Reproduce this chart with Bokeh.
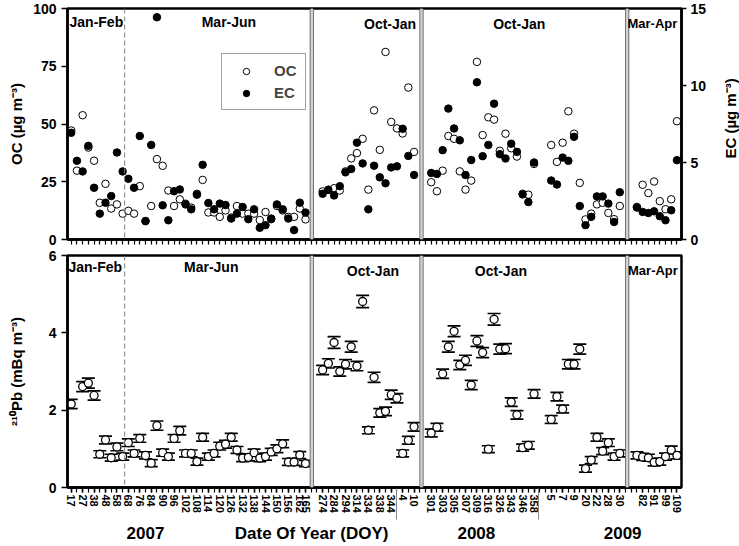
from math import pi
from bokeh.plotting import figure
from bokeh.models import (Range1d, LinearAxis, FixedTicker, Span, Label, Legend, LegendItem,
                          ColumnDataSource, Whisker, TeeHead)
from bokeh.layouts import column, row
from bokeh.embed import file_html
from bokeh.resources import INLINE

NaN = float("nan")

# ---------------- data ----------------
# sequential sample slot along the x axis, per sampling campaign
slots_2007_janjun = list(range(0, 42))
slots_2007_octjan = list(range(44, 61))
slots_2008_octdec = list(range(63, 82))
slots_2009_jan = list(range(84, 97))
slots_2009_marapr = list(range(99, 107))

# OC (ug m-3)
oc_2007_janjun = [47.2, 29.8, 53.8, 39.8, 34.1, 15.9, 24.1, 13.4, 15.2, 11.2,
                  12.4, 11.2, 23.1, 8.0, 14.5, 34.8, 31.9, 21.2, 14.5, 17.4, 15.5, 13.8, 19.8, 25.8,
                  11.7, 11.7, 9.8, 12.6, 9.5, 14.5, 11.2, 11.2, 11.2, 8.4, 11.9, 8.8, 14.5, 12.6,
                  9.8, 9.8, 13.4, 8.7]
oc_2007_octjan = [20.8, 21.5, 22.2, 21.2, 29.5, 35.1, 37.4, 43.6, 21.6, 55.9, 38.8, 81.2, 50.9,
                  48.1, 45.9, 65.8, 37.9]
oc_2008_octdec = [24.8, 20.9, 29.8, 44.8, 43.6, 29.5, 21.6, 25.5, 76.9, 45.2, 52.9, 51.9, 38.4,
                  45.8, 39.5, 35.9, 19.8, 19.4, 32.7]
oc_2009_jan = [40.9, 33.6, 41.9, 55.5, 45.8, 24.5, 8.7, 11.2, 15.2, 15.9, 11.5, 8.8, 14.5]
oc_2009_marapr = [14.1, 23.7, 20.1, 25.1, 16.6, 13.1, 17.4, 51.2]

# EC (ug m-3)
ec_2007_janjun = [6.93, 5.11, 4.42, 6.08, 3.36, 1.68, 2.39, 2.82, 5.65, 4.42,
                  3.94, 3.36, 6.72, 1.19, 6.14, 14.43, 2.22, 1.25, 3.14, 3.25, 2.28, 1.96, 2.91,
                  4.85, 2.37, 1.96, 2.33, 2.24, 1.36, 1.68, 2.11, 1.32, 1.96, 0.76, 0.93, 1.36,
                  2.28, 1.96, 1.36, 0.61, 2.39, 1.75]
ec_2007_octjan = [2.97, 3.23, 2.86, 3.46, 4.36, 4.58, 6.29, 4.94, 1.96, 4.79, 4.04, 3.65, 4.68,
                  4.75, 7.19, 5.43, 4.19]
ec_2008_octdec = [4.32, 4.26, 5.80, 8.50, 7.21, 6.44, 4.19, 5.16, 10.21, 5.41, 6.14, 8.82, 5.54,
                  5.26, 6.22, 5.69, 2.93, 2.43, 5.00]
ec_2009_jan = [3.83, 3.57, 5.32, 5.11, 6.67, 2.17, 0.93, 1.47, 2.80, 2.80, 2.33, 1.14, 3.07]
ec_2009_marapr = [2.07, 1.79, 1.72, 1.83, 1.51, 1.25, 1.90, 5.15]

# 210Pb (mBq m-3) and its uncertainty
pb_2007_janjun = [2.16, NaN, 2.61, 2.70, 2.38, 0.86, 1.23, 0.77, 1.05, 0.80,
                  1.16, 0.88, 1.27, 0.83, 0.63, 1.60, 0.90, 0.80, 1.27, 1.47, 0.88, 0.88, 0.67,
                  1.30, 0.80, 0.88, 1.07, 1.12, 1.30, 0.97, 0.76, 0.78, 0.90, 0.76, 0.80, 0.92,
                  1.00, 1.13, 0.66, 0.66, 0.84, 0.62]
pb_2007_octjan = [3.04, 3.21, 3.75, 3.00, 3.19, 3.64, 3.14, 4.81, 1.48, 2.85, 1.93, 1.97, 2.40,
                  2.31, 0.88, 1.22, 1.57]
pb_2008_octdec = [1.41, 1.56, 2.94, 3.64, 4.04, 3.17, 3.29, 2.65, 3.79, 3.49, 0.99, 4.35, 3.58,
                  3.59, 2.21, 1.88, 1.03, 1.09, 2.42]
pb_2009_jan = [1.76, 2.35, 2.03, 3.19, 3.19, 3.58, 0.49, 0.71, 1.30, 0.94, 1.16, 0.80, 0.88]
pb_2009_marapr = [0.83, 0.79, 0.77, 0.65, 0.67, 0.80, 0.97, 0.83]

pb_err_2007_janjun = [0.12, NaN, 0.13, 0.13, 0.12, 0.09, 0.10, 0.09, 0.10, 0.09,
                      0.10, 0.09, 0.10, 0.09, 0.09, 0.12, 0.09, 0.09, 0.10, 0.11, 0.09, 0.09,
                      0.09, 0.10, 0.09, 0.09, 0.10, 0.10, 0.10, 0.09, 0.09, 0.09, 0.09, 0.09,
                      0.09, 0.09, 0.10, 0.10, 0.09, 0.09, 0.09, 0.08]
pb_err_2007_octjan = [0.12, 0.12, 0.15, 0.12, 0.12, 0.14, 0.12, 0.16, 0.09, 0.13, 0.11, 0.11,
                      0.12, 0.12, 0.09, 0.10, 0.11]
pb_err_2008_octdec = [0.10, 0.10, 0.12, 0.14, 0.14, 0.12, 0.13, 0.12, 0.14, 0.13, 0.09, 0.15,
                      0.13, 0.13, 0.11, 0.11, 0.09, 0.10, 0.11]
pb_err_2009_jan = [0.10, 0.11, 0.10, 0.12, 0.12, 0.13, 0.09, 0.09, 0.10, 0.09, 0.10, 0.09, 0.09]
pb_err_2009_marapr = [0.09, 0.09, 0.09, 0.09, 0.09, 0.09, 0.10, 0.09]

# x tick labels (day of year) and the slots they sit on
doy_tick_slots = [0, 2, 4, 6, 8, 10, 12, 14, 16, 18, 20, 22, 24, 26, 28, 30, 32, 34, 36, 38, 40, 41,
                  44, 46, 48, 50, 52, 54, 56, 58, 60,
                  63, 65, 67, 69, 71, 73, 75, 77, 79, 81,
                  84, 86, 88, 90, 92, 94, 96,
                  100, 102, 104, 106]
doy_tick_labels = ["17", "27", "38", "48", "58", "68", "76", "84", "90", "96", "102", "108", "114",
                   "120", "126", "132", "138", "144", "150", "156", "162", "165",
                   "274", "284", "294", "314", "334", "338", "344", "4", "10",
                   "301", "303", "305", "307", "309", "316", "326", "343", "346", "358",
                   "5", "7", "9", "20", "22", "28", "30",
                   "82", "91", "99", "109"]
all_slots = list(range(0, 107))

# year captions under the axis
year_label_slots = [13.0, 42.1, 70.9, 96.5]
year_label_texts = ["2007", "Date Of Year (DOY)", "2008", "2009"]

# campaign boundaries (in slot units)
campaign_bounds = [42.1, 61.3, 97.3]
janfeb_bound = 9.35
year_bounds = [57.0, 81.8]

# ---------------- assemble ----------------
slots = slots_2007_janjun + slots_2007_octjan + slots_2008_octdec + slots_2009_jan + slots_2009_marapr
oc = oc_2007_janjun + oc_2007_octjan + oc_2008_octdec + oc_2009_jan + oc_2009_marapr
ec = ec_2007_janjun + ec_2007_octjan + ec_2008_octdec + ec_2009_jan + ec_2009_marapr
pb = pb_2007_janjun + pb_2007_octjan + pb_2008_octdec + pb_2009_jan + pb_2009_marapr
pb_err = pb_err_2007_janjun + pb_err_2007_octjan + pb_err_2008_octdec + pb_err_2009_jan + pb_err_2009_marapr

FONT = "Liberation Sans"
FRAME_W = 614
LEFT = 67
STRIP_W = 16
X_RANGE = (-0.65, 106.8)


def style_common(p):
    p.xgrid.visible = False
    p.ygrid.visible = False
    p.outline_line_color = "black"
    p.outline_line_width = 2.5
    p.background_fill_color = "white"
    p.border_fill_color = "white"


def style_axis(ax, font_size="14px"):
    ax.axis_line_width = 2.5
    ax.axis_line_color = "black"
    ax.major_tick_line_width = 1.5
    ax.minor_tick_line_width = 1.2
    ax.major_tick_in = 0
    ax.minor_tick_in = 0
    ax.major_label_text_font = FONT
    ax.major_label_text_font_style = "bold"
    ax.major_label_text_font_size = font_size
    ax.major_label_text_color = "black"
    ax.axis_label_text_font = FONT
    ax.axis_label_text_font_style = "bold"
    ax.axis_label_text_font_size = "15px"
    ax.axis_label_text_color = "black"


def add_bounds(p):
    for b in campaign_bounds:
        p.add_layout(Span(location=b, dimension="height", line_color="#666666", line_width=4.2))
        p.add_layout(Span(location=b, dimension="height", line_color="#d2d2d2", line_width=2.4))
    p.add_layout(Span(location=janfeb_bound, dimension="height", line_color="#808080",
                      line_width=1, line_dash="5 3"))


def txt(p, s, x, y, size="14px", **kw):
    p.add_layout(Label(x=x, y=y, text=s, text_font=FONT, text_font_style="bold",
                       text_font_size=size, text_align="center", text_baseline="middle",
                       text_color="black", **kw))


# ---------------- top panel: OC / EC ----------------
p1 = figure(frame_width=FRAME_W, frame_height=231, x_range=Range1d(*X_RANGE),
            y_range=Range1d(0, 100), output_backend="svg", toolbar_location=None,
            min_border_left=LEFT, min_border_right=42, min_border_top=8, min_border_bottom=8)
style_common(p1)
p1.extra_y_ranges = {"ec": Range1d(0, 15)}

yl = p1.yaxis[0]
style_axis(yl)
yl.ticker = FixedTicker(ticks=[0, 25, 50, 75, 100])
yl.major_tick_out = 6
yl.minor_tick_out = 0
yl.major_label_standoff = 5
yl.axis_label = "OC (µg m⁻³)"
yl.axis_label_standoff = 5

yr = LinearAxis(y_range_name="ec", ticker=FixedTicker(ticks=[0, 5, 10, 15]))
style_axis(yr)
yr.major_tick_out = 5
yr.minor_tick_out = 0
yr.major_label_standoff = 4
p1.add_layout(yr, "right")

xt = p1.xaxis[0]
style_axis(xt, "11px")
xt.ticker = FixedTicker(ticks=[], minor_ticks=all_slots)
xt.minor_tick_out = 5
xt.major_tick_out = 5
xt.major_label_standoff = 0

add_bounds(p1)

r_oc = p1.scatter(slots, oc, marker="circle", size=7.5, fill_color="white",
                  line_color="black", line_width=1)
r_ec = p1.scatter(slots, ec, marker="circle", size=7.5, fill_color="black",
                  line_color="black", line_width=1, y_range_name="ec")

legend = Legend(items=[LegendItem(label="OC", renderers=[r_oc]),
                       LegendItem(label="EC", renderers=[r_ec])],
                location=(154, 129), padding=8, spacing=5, glyph_width=32, glyph_height=16,
                label_height=16, label_standoff=12, label_text_font=FONT,
                label_text_font_style="bold", label_text_font_size="15px",
                border_line_color="#444444", border_line_width=1,
                background_fill_color="white", background_fill_alpha=1.0)
p1.add_layout(legend)

txt(p1, "Jan-Feb", 4.4, 94.3)
txt(p1, "Mar-Jun", 27.6, 94.3)
txt(p1, "Oct-Jan", 55.8, 93.5)
txt(p1, "Oct-Jan", 78.4, 93.5)
txt(p1, "Mar-Apr", 101.7, 93.5, size="13px")

# narrow strip on the right that carries the EC axis title (reads bottom to top)
pl = figure(width=STRIP_W, height=247, x_range=Range1d(0, 1), y_range=Range1d(0, 1),
            x_axis_type=None, y_axis_type=None, output_backend="svg", toolbar_location=None,
            min_border_left=0, min_border_right=0, min_border_top=0, min_border_bottom=0)
pl.xgrid.visible = False
pl.ygrid.visible = False
pl.outline_line_color = None
pl.background_fill_color = "white"
pl.border_fill_color = "white"
pl.add_layout(Label(x=0.45, y=0.524, text="EC (µg m⁻³)", angle=pi / 2, text_font=FONT,
                    text_font_style="bold", text_font_size="15px", text_align="center",
                    text_baseline="middle", text_color="black"))

# ---------------- bottom panel: 210Pb ----------------
p2 = figure(frame_width=FRAME_W, frame_height=232, x_range=p1.x_range, y_range=Range1d(0, 6),
            output_backend="svg", toolbar_location=None,
            min_border_left=LEFT, min_border_right=58, min_border_top=8, min_border_bottom=58)
style_common(p2)

yl2 = p2.yaxis[0]
style_axis(yl2)
yl2.ticker = FixedTicker(ticks=[0, 2, 4, 6])
yl2.major_tick_out = 6
yl2.minor_tick_out = 0
yl2.major_label_standoff = 5
yl2.axis_label = "²¹⁰Pb (mBq m⁻³)"
yl2.axis_label_standoff = 21

xb = p2.xaxis[0]
style_axis(xb, "11px")
xb.ticker = FixedTicker(ticks=doy_tick_slots, minor_ticks=all_slots)
xb.major_tick_out = 5
xb.minor_tick_out = 5
xb.major_label_overrides = {s: l for s, l in zip(doy_tick_slots, doy_tick_labels)}
xb.major_label_orientation = "vertical"
xb.major_label_standoff = 2

# second axis below: year captions, axis title and year separators
ya = LinearAxis(ticker=FixedTicker(ticks=year_label_slots, minor_ticks=year_bounds))
ya.major_label_overrides = {s: l for s, l in zip(year_label_slots, year_label_texts)}
ya.axis_line_color = None
ya.major_tick_line_color = None
ya.major_tick_in = 0
ya.major_tick_out = 0
ya.minor_tick_line_color = "#888888"
ya.minor_tick_line_width = 1
ya.minor_tick_in = 27
ya.minor_tick_out = 4
ya.major_label_standoff = 4
ya.major_label_text_font = FONT
ya.major_label_text_font_style = "bold"
ya.major_label_text_font_size = "17px"
ya.major_label_text_color = "black"
p2.add_layout(ya, "below")

add_bounds(p2)

ex, elo, eup = [], [], []
for s, v, e in zip(slots, pb, pb_err):
    if v == v and e == e:
        ex.append(s)
        elo.append(v - e)
        eup.append(v + e)
err_src = ColumnDataSource(dict(x=ex, lo=elo, up=eup))
wh = Whisker(source=err_src, base="x", lower="lo", upper="up", dimension="height",
             line_color="black", line_width=1.2, level="underlay",
             upper_head=TeeHead(size=13, line_width=1.7, line_color="black"),
             lower_head=TeeHead(size=13, line_width=1.7, line_color="black"))
p2.add_layout(wh)

p2.scatter(slots, pb, marker="circle", size=8, fill_color="white", line_color="black",
           line_width=1.3)

txt(p2, "Jan-Feb", 4.2, 5.69)
txt(p2, "Mar-Jun", 24.5, 5.69)
txt(p2, "Oct-Jan", 52.8, 5.61)
txt(p2, "Oct-Jan", 75.2, 5.61)
txt(p2, "Mar-Apr", 101.8, 5.61, size="13px")

layout = column(row(p1, pl), p2)
open("out.html", "w").write(file_html(layout, INLINE))
